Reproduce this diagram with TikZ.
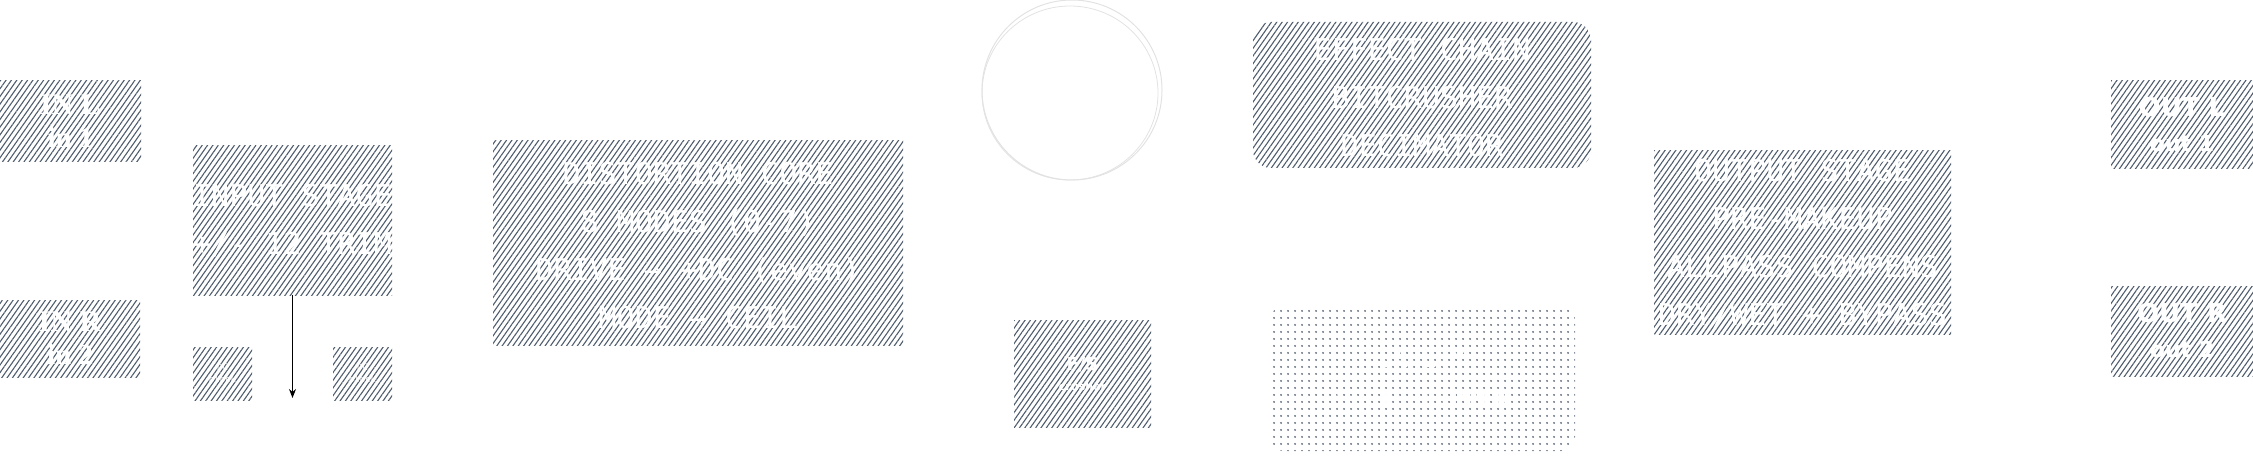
\documentclass[tikz,border=0pt]{standalone}
\usepackage{fontspec}
\setmonofont{DejaVu Sans Mono}
\newfontfamily\inserif{Liberation Serif}
\newfontfamily\outsans{DejaVu Sans}
\usetikzlibrary{patterns.meta,arrows.meta}
\definecolor{hatch}{RGB}{78,92,108}
\definecolor{dotcol}{RGB}{96,108,122}
\definecolor{ringgray}{RGB}{226,226,226}
\begin{document}
\begin{tikzpicture}[x=1pt,y=-1pt,
  hbox/.style={draw=none, pattern={Lines[angle=55,distance=4.4pt,line width=1.1pt]}, pattern color=hatch, inner sep=0pt, outer sep=0pt},
  dbox/.style={draw=none, pattern={Dots[distance=6.5pt,radius=1.1pt]}, pattern color=dotcol, inner sep=0pt, outer sep=0pt, rounded corners=14pt},
  monotext/.style={text=white, align=center, font=\ttfamily\fontsize{30}{48}\selectfont, inner sep=0pt},
  portin/.style={text=white, align=center, font=\inserif\bfseries\fontsize{30}{37}\selectfont, inner sep=0pt},
  portout/.style={text=white, align=center, font=\outsans\bfseries\fontsize{26}{37}\selectfont, inner sep=0pt},
  smalltext/.style={text=white, align=center, font=\ttfamily\fontsize{9}{12}\selectfont, inner sep=0pt}]
\useasboundingbox (0,0) rectangle (2253,457);

% input ports
\node[hbox, minimum width=141pt, minimum height=81pt] (inl) at (70.5,121.5) {};
\node[portin] (inlT) at (inl.center) {IN L\\[-4pt]{\fontsize{29}{30}\selectfont in 1}};
\node[hbox, minimum width=140pt, minimum height=77pt] (inr) at (70,338.5) {};
\node[portin] (inrT) at (inr.center) {IN R\\[-4pt]{\fontsize{29}{30}\selectfont in 2}};

% input stage
\node[hbox, minimum width=199pt, minimum height=149pt] (input) at (292.5,220.5) {};
\node[monotext] (inputT) at (input.center) {INPUT STAGE\\+/- 12 TRIM};
\coordinate (arrowend) at (292.5,398);
\draw[line width=1.2pt, -{Stealth[length=9pt,width=7pt]}] (input.south) -- (arrowend);

\node[hbox, minimum width=59pt, minimum height=53pt] (sa) at (222.5,373.5) {};
\node[smalltext] (saT) at (sa.center) {DC\\block};
\node[hbox, minimum width=59pt, minimum height=53pt] (sb) at (362.5,373.5) {};
\node[smalltext] (sbT) at (sb.center) {DC\\block};

% distortion core
\node[hbox, minimum width=410pt, minimum height=204pt] (dist) at (698,243) {};
\node[monotext] (distT) at (698,245.5) {DISTORTION CORE\\8 MODES (0-7)\\DRIVE → +DC (even)\\MODE → CEIL};

% circle
\node[draw=ringgray, line width=1pt, circle, minimum size=180pt, inner sep=0pt] (ring) at (1072,90) {};
\draw[ringgray, line width=0.8pt] (1070,93) ellipse [x radius=88pt, y radius=87pt];

% effect chain
\node[hbox, rounded corners=18pt, minimum width=338pt, minimum height=146pt] (fx) at (1422,95) {};
\node[monotext] (fxT) at (1422,98) {EFFECT CHAIN\\BITCRUSHER\\DECIMATOR};

% F/S box
\node[hbox, minimum width=137pt, minimum height=107pt] (fs) at (1082.5,373.5) {};
\node[text=white, align=center, font=\outsans\bfseries\fontsize{18}{20}\selectfont, inner sep=0pt] (fsT) at (fs.center) {F/S\\{\fontsize{11}{12}\selectfont crusher}};

% dotted box
\node[dbox, minimum width=305pt, minimum height=145pt] (dot) at (1422.5,378.5) {};
\node[text=white, align=center, font=\ttfamily\fontsize{24}{40}\selectfont, inner sep=0pt] (dotT) at (dot.center) {SAFETY\\SOFT CLIPPER};

% output stage
\node[hbox, minimum width=297pt, minimum height=183pt] (out) at (1802.5,242.5) {};
\node[monotext] (outT) at (1802.5,244) {OUTPUT STAGE\\PRE-MAKEUP\\ALLPASS COMPENS\\DRY/WET + BYPASS};

% output ports
\node[hbox, minimum width=142pt, minimum height=88pt] (outl) at (2182,125) {};
\node[portout] (outlT) at (outl.center) {OUT L\\[-2pt]{\fontsize{22}{28}\selectfont out 1}};
\node[hbox, minimum width=142pt, minimum height=90pt] (outr) at (2182,331) {};
\node[portout] (outrT) at (outr.center) {OUT R\\[-2pt]{\fontsize{22}{28}\selectfont out 2}};
\end{tikzpicture}
\end{document}
